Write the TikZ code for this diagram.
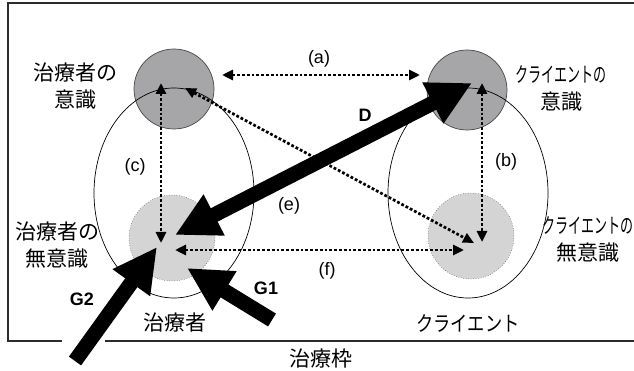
\documentclass[tikz,border=0pt]{standalone}
\usepackage{fontspec}
\setmainfont{Liberation Sans}
\newfontfamily\jp{Noto Sans CJK JP}
\usetikzlibrary{arrows.meta,shapes.geometric}
\definecolor{framec}{RGB}{45,45,45}
\definecolor{consc}{RGB}{166,166,168}
\definecolor{uncons}{RGB}{212,212,212}
\definecolor{circline}{RGB}{70,70,70}
\begin{document}
\begin{tikzpicture}[x=1pt,y=-1pt,
  jplabel/.style={font=\jp\fontsize{21}{27}\selectfont, align=center, inner sep=0},
  ltr/.style={font=\fontsize{18}{20}\selectfont, inner sep=0},
  boldltr/.style={font=\bfseries\fontsize{18}{20}\selectfont, inner sep=0},
  conscircle/.style={circle, minimum size=80pt, inner sep=0, outer sep=0, draw=circline, line width=0.7pt, fill=consc},
  unconscircle/.style={circle, minimum size=86pt, inner sep=0, outer sep=0, draw=circline, line width=0.5pt, dotted, fill=uncons},
  selfellipse/.style={ellipse, minimum width=160pt, minimum height=210pt, inner sep=0, outer sep=0, draw=black, line width=0.7pt},
  dotarrow/.style={line width=2.7pt, dash pattern=on 2.8pt off 2pt, {Triangle[length=11pt,width=10pt]}-{Triangle[length=11pt,width=10pt]}},
  bigtip/.style={line width=15pt, -{Triangle[length=44pt,width=43pt]}},
  bigboth/.style={line width=15pt, {Triangle[length=44pt,width=43pt]}-{Triangle[length=44pt,width=43pt]}},
  framel/.style={draw=framec, line width=2.5pt}
]
\useasboundingbox (0,0) rectangle (634,371);
% frame (open on the right)
\draw[framel] (62,341) -- (8,341) -- (8,3) -- (634,3);
\draw[framel] (105,341) -- (634,341);
% circles
\node[conscircle] (tc) at (174,89) {};
\node[conscircle] (cc) at (467,90) {};
\node[unconscircle] (tu) at (172,238) {};
\node[unconscircle] (cu) at (471,236) {};
% ellipses
\node[selfellipse] (te) at (174,193) {};
\node[selfellipse] (ce) at (468,193) {};
% dotted arrow end points
\coordinate (a1) at (222,75);
\coordinate (a2) at (420,75);
\coordinate (c1) at (161,83);
\coordinate (c2) at (161,243);
\coordinate (b1) at (482,83);
\coordinate (b2) at (482,242);
\coordinate (e1) at (185,88);
\coordinate (e2) at (474,243);
\coordinate (f1) at (175,250);
\coordinate (f2) at (464,250);
\draw[dotarrow] (a1) -- (a2);
\draw[dotarrow] (c1) -- (c2);
\draw[dotarrow] (b1) -- (b2);
\draw[dotarrow] (e1) -- (e2);
\draw[dotarrow] (f1) -- (f2);
% thick arrows
\coordinate (D1) at (175,235);
\coordinate (D2) at (472,83);
\coordinate (G2s) at (75,361);
\coordinate (G2e) at (157,247);
\coordinate (G1s) at (272,320);
\coordinate (G1e) at (187,268);
\draw[bigboth] (D1) -- (D2);
\draw[bigtip] (G2s) -- (G2e);
\draw[bigtip] (G1s) -- (G1e);
% labels
\node[jplabel] (tcl) at (75,86) {治療者の\\意識};
\node[jplabel] (ccl) at (561,88) {\scalebox{0.62}[1]{クライエントの}\\意識};
\node[jplabel] (tul) at (57,245) {治療者の\\無意識};
\node[jplabel] (cul) at (588,239) {\scalebox{0.62}[1]{クライエントの}\\無意識};
\node[jplabel] (tl) at (175,323) {治療者};
\node[jplabel] (cl) at (468,323) {\scalebox{0.82}[1]{クライエント}};
\node[jplabel] (fl) at (321,359) {治療枠};
\node[ltr] (la) at (319,59) {(a)};
\node[ltr] (lb) at (506,162) {(b)};
\node[ltr] (lc) at (135,167) {(c)};
\node[ltr] (le) at (289,206) {(e)};
\node[ltr] (lf) at (327,271) {(f)};
\node[boldltr] (lD) at (365,115) {D};
\node[boldltr] (lG1) at (266,288) {G1};
\node[boldltr] (lG2) at (82,299) {G2};
\end{tikzpicture}
\end{document}
